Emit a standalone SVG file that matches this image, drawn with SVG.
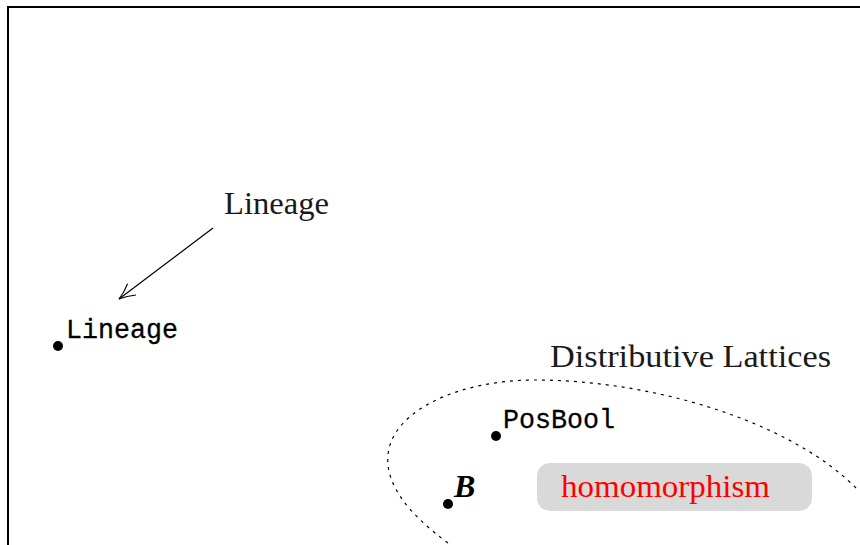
<svg xmlns="http://www.w3.org/2000/svg" width="860" height="545" viewBox="0 0 860 545">
<style>
.serif{font-family:"Liberation Serif","DejaVu Serif",serif;font-size:31px;fill:#1a1a1a}
.mono{font-family:"Liberation Mono","DejaVu Sans Mono",monospace;font-size:27px;fill:#000;stroke:#000;stroke-width:0.3}
.dot{fill:#000}
</style>
<defs>
<marker id="open" viewBox="0 0 20 20" refX="18" refY="10" markerWidth="20" markerHeight="20" markerUnits="userSpaceOnUse" orient="auto">
<path d="M2 3 Q10 8 18 10 Q10 12 2 17" fill="none" stroke="#000" stroke-width="1.1"/>
</marker>
</defs>
<rect width="860" height="545" fill="#fff"/>
<path d="M8 545 V7 H860" fill="none" stroke="#000" stroke-width="2"/>
<g id="connectors">
<line x1="213" y1="228" x2="119" y2="299" stroke="#000" stroke-width="1.2" marker-end="url(#open)"/>
</g>
<g id="region">
<path d="M448 543 C410 515 385 485 388 455 C392 410 460 380 535 380 C650 380 790 420 858 490" fill="none" stroke="#000" stroke-width="1.2" stroke-dasharray="3 5"/>
<text class="serif" x="550" y="367" textLength="281" lengthAdjust="spacingAndGlyphs">Distributive Lattices</text>
</g>
<g id="lineage-label">
<text class="serif" x="224" y="214" textLength="105" lengthAdjust="spacingAndGlyphs">Lineage</text>
</g>
<g id="lineage">
<circle class="dot" cx="58" cy="346" r="5"/>
<text class="mono" x="66" y="338" textLength="112" lengthAdjust="spacingAndGlyphs">Lineage</text>
</g>
<g id="posbool">
<circle class="dot" cx="496" cy="436" r="5"/>
<text class="mono" x="503" y="428" textLength="112" lengthAdjust="spacingAndGlyphs">PosBool</text>
</g>
<g id="boolean">
<circle class="dot" cx="448" cy="504" r="5"/>
<text x="454" y="497" font-family="'Liberation Serif',serif" font-style="italic" font-weight="bold" font-size="32" fill="#000">B</text>
</g>
<g id="homomorphism">
<rect x="537" y="463" width="275" height="48" rx="13" fill="#d9d9d9"/>
<text class="serif" x="561" y="497" textLength="209" lengthAdjust="spacingAndGlyphs" style="fill:#ff0000">homomorphism</text>
</g>
</svg>
